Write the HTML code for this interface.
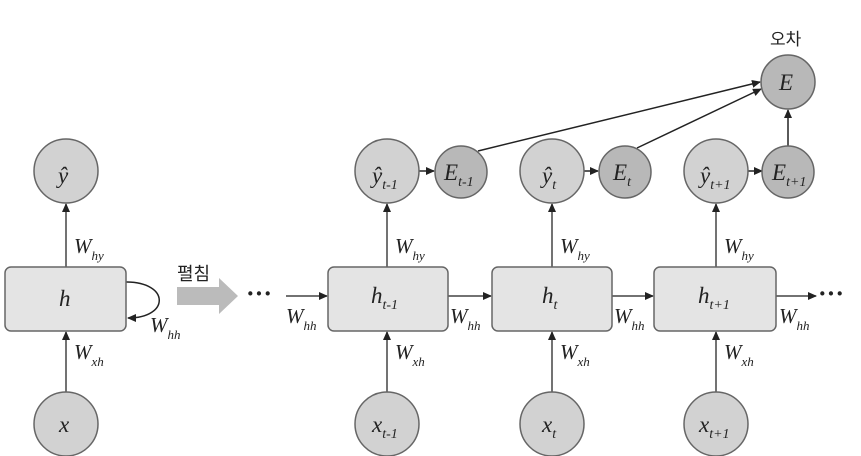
<!DOCTYPE html>
<html><head><meta charset="utf-8"><style>
html,body{margin:0;padding:0;background:#fff;}
svg{display:block;}
text{font-family:"Liberation Serif",serif;font-style:italic;fill:#222;}
.k{font-family:"Liberation Sans","Noto Sans CJK KR",sans-serif;font-style:normal;}
</style></head><body>
<svg width="861" height="456" viewBox="0 0 861 456" xmlns="http://www.w3.org/2000/svg">
<defs>
<marker id="a" markerWidth="9" markerHeight="9" refX="8" refY="4.5" orient="auto" markerUnits="userSpaceOnUse">
<path d="M0,0.5 L9,4.5 L0,8.5 Z" fill="#222"/></marker>
</defs>
<g stroke="#444" stroke-width="1.5" fill="none">
<line x1="66" y1="267" x2="66" y2="204" marker-end="url(#a)"/>
<line x1="66" y1="392" x2="66" y2="332" marker-end="url(#a)"/>
<path d="M126,282 C170,282 170,318 128,318" stroke="#222" marker-end="url(#a)"/>
<line x1="387" y1="267" x2="387" y2="204" marker-end="url(#a)"/>
<line x1="552" y1="267" x2="552" y2="204" marker-end="url(#a)"/>
<line x1="716" y1="267" x2="716" y2="204" marker-end="url(#a)"/>
<line x1="387" y1="392" x2="387" y2="332" marker-end="url(#a)"/>
<line x1="552" y1="392" x2="552" y2="332" marker-end="url(#a)"/>
<line x1="716" y1="392" x2="716" y2="332" marker-end="url(#a)"/>
<line x1="286" y1="296" x2="327" y2="296" marker-end="url(#a)"/>
<line x1="448" y1="296" x2="491" y2="296" marker-end="url(#a)"/>
<line x1="612" y1="296" x2="653" y2="296" marker-end="url(#a)"/>
<line x1="776" y1="296" x2="816" y2="296" marker-end="url(#a)"/>
<line x1="419" y1="171" x2="434" y2="171" stroke="#222" marker-end="url(#a)"/>
<line x1="583" y1="171" x2="598" y2="171" stroke="#222" marker-end="url(#a)"/>
<line x1="747" y1="171" x2="762" y2="171" stroke="#222" marker-end="url(#a)"/>
<line x1="478" y1="151" x2="760" y2="82" stroke="#222" marker-end="url(#a)"/>
<line x1="637" y1="148" x2="761" y2="89" stroke="#222" marker-end="url(#a)"/>
<line x1="788" y1="146" x2="788" y2="110" stroke="#222" marker-end="url(#a)"/>
</g>
<g fill="#e4e4e4" stroke="#666" stroke-width="1.5">
<rect x="5" y="267" width="121" height="64" rx="6"/>
<rect x="328" y="267" width="120" height="64" rx="6"/>
<rect x="492" y="267" width="120" height="64" rx="6"/>
<rect x="654" y="267" width="122" height="64" rx="6"/>
</g>
<g fill="#d2d2d2" stroke="#666" stroke-width="1.5">
<circle cx="66" cy="171" r="32"/>
<circle cx="66" cy="424" r="32"/>
<circle cx="387" cy="171" r="32"/>
<circle cx="552" cy="171" r="32"/>
<circle cx="716" cy="171" r="32"/>
<circle cx="387" cy="424" r="32"/>
<circle cx="552" cy="424" r="32"/>
<circle cx="716" cy="424" r="32"/>
</g>
<g fill="#b8b8b8" stroke="#666" stroke-width="1.5">
<circle cx="461" cy="172" r="26"/>
<circle cx="625" cy="172" r="26"/>
<circle cx="788" cy="172" r="26"/>
<circle cx="788" cy="82" r="27"/>
</g>
<path d="M177,287 H219 V278 L238,296 L219,314 V305 H177 Z" fill="#bbb"/>
<text class="k" x="177" y="280" font-size="18">펼침</text>
<text class="k" x="770" y="45" font-size="17">오차</text>
<text x="246" y="302" font-size="26" style="font-style:normal;font-weight:bold">···</text>
<text x="818" y="302" font-size="26" style="font-style:normal;font-weight:bold">···</text>
<g font-size="23">
<text x="58" y="183">ŷ</text>
<text x="59" y="306">h</text>
<text x="59" y="432">x</text>
<text x="372" y="183">ŷ<tspan font-size="14" dy="6">t-1</tspan></text>
<text x="542" y="183">ŷ<tspan font-size="14" dy="6">t</tspan></text>
<text x="700" y="183">ŷ<tspan font-size="14" dy="6">t+1</tspan></text>
<text x="444" y="180">E<tspan font-size="14" dy="6">t-1</tspan></text>
<text x="613" y="180">E<tspan font-size="14" dy="6">t</tspan></text>
<text x="772" y="180">E<tspan font-size="14" dy="6">t+1</tspan></text>
<text x="779" y="90">E</text>
<text x="371" y="303">h<tspan font-size="14" dy="6">t-1</tspan></text>
<text x="542" y="303">h<tspan font-size="14" dy="6">t</tspan></text>
<text x="698" y="303">h<tspan font-size="14" dy="6">t+1</tspan></text>
<text x="372" y="432">x<tspan font-size="14" dy="6">t-1</tspan></text>
<text x="542" y="432">x<tspan font-size="14" dy="6">t</tspan></text>
<text x="699" y="432">x<tspan font-size="14" dy="6">t+1</tspan></text>
</g>
<g font-size="21">
<text x="74" y="253">W<tspan font-size="13" dy="7">hy</tspan></text>
<text x="74" y="359">W<tspan font-size="13" dy="7">xh</tspan></text>
<text x="150" y="332">W<tspan font-size="13" dy="7">hh</tspan></text>
<text x="395" y="253">W<tspan font-size="13" dy="7">hy</tspan></text>
<text x="560" y="253">W<tspan font-size="13" dy="7">hy</tspan></text>
<text x="724" y="253">W<tspan font-size="13" dy="7">hy</tspan></text>
<text x="395" y="359">W<tspan font-size="13" dy="7">xh</tspan></text>
<text x="560" y="359">W<tspan font-size="13" dy="7">xh</tspan></text>
<text x="724" y="359">W<tspan font-size="13" dy="7">xh</tspan></text>
<text x="286" y="323">W<tspan font-size="13" dy="7">hh</tspan></text>
<text x="450" y="323">W<tspan font-size="13" dy="7">hh</tspan></text>
<text x="614" y="323">W<tspan font-size="13" dy="7">hh</tspan></text>
<text x="779" y="323">W<tspan font-size="13" dy="7">hh</tspan></text>
</g>
</svg>
</body></html>
